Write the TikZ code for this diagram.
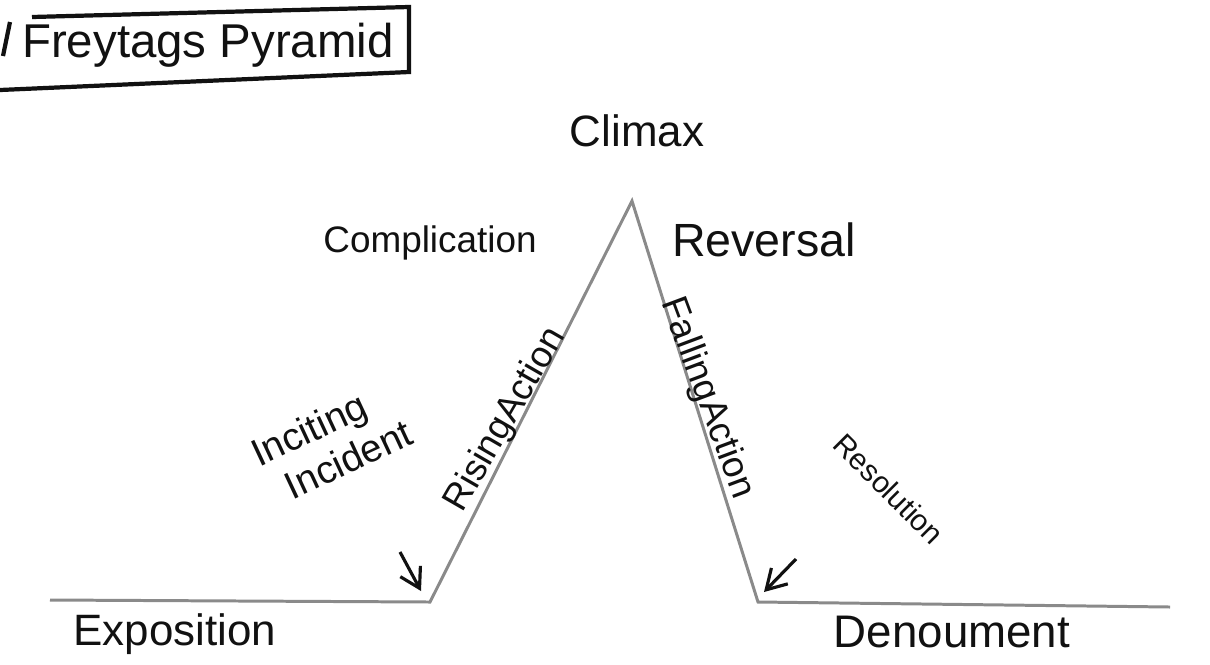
\documentclass[tikz,border=0pt]{standalone}
\usepackage{fontspec}
\setmainfont{Liberation Sans}
\usetikzlibrary{arrows.meta}
\definecolor{pencil}{HTML}{8A8A8A}
\definecolor{ink}{HTML}{111111}

\begin{document}
\begin{tikzpicture}[
    x=0.02cm, y=-0.02cm,
    stage/.style={font=\fontsize{25}{29}\selectfont, text=ink, inner sep=1pt},
    slope/.style={font=\fontsize{21}{25}\selectfont, text=ink, inner sep=1pt},
    plotline/.style={draw=pencil, line width=1.7pt, line join=miter},
    pointer/.style={-{Straight Barb[length=11pt, width=13pt]}, line width=1.8pt, color=ink},
    titlebox/.style={draw=ink, line width=2.4pt}
]
\useasboundingbox (0, 0) rectangle (1210, 664);

\coordinate (baseL) at (50, 600);
\coordinate (incite) at (430, 602);
\coordinate (peak) at (632, 201);
\coordinate (resolve) at (758, 602);
\coordinate (baseR) at (1170, 607);

\draw[plotline] (baseL) -- (incite) -- (peak) -- (resolve) -- (baseR);

\coordinate (boxA) at (32, 17);
\coordinate (boxB) at (409, 7);
\coordinate (boxC) at (409, 72);
\coordinate (boxD) at (0, 90);
\coordinate (slashT) at (10, 22);
\coordinate (slashB) at (3, 56);
\draw[titlebox] (boxA) -- (boxB) -- (boxC) -- (boxD);
\draw[titlebox] (slashT) -- (slashB);
\node[font=\fontsize{27}{31}\selectfont, text=ink] (title) at (208, 45) {Freytags Pyramid};

\node[stage] (climax) at (637, 131) {Climax};
\node[stage, font=\fontsize{21}{25}\selectfont] (complication) at (430, 243) {Complication};
\node[stage, font=\fontsize{26.5}{30}\selectfont] (reversal) at (764, 240) {Reversal};
\node[stage] (exposition) at (175, 634) {Exposition};
\node[stage, font=\fontsize{26}{30}\selectfont] (denoument) at (952, 632) {Denoument};

\node[slope, align=center, rotate=25, font=\fontsize{22}{25}\selectfont] (inciting) at (318, 449) {Inciting\\\hspace*{1.2em}Incident};
\node[slope, rotate=60] (rising) at (506, 420) {RisingAction};
\node[slope, rotate=-69.5] (falling) at (707, 398) {FallingAction};
\node[slope, rotate=-45, font=\fontsize{17}{20}\selectfont] (resolution) at (889, 489) {Resolution};

\coordinate (incTail) at (400, 552);
\coordinate (incTip) at (421, 591);
\coordinate (resTail) at (796, 559);
\coordinate (resTip) at (764, 592);
\draw[pointer] (incTail) -- (incTip);
\draw[pointer] (resTail) -- (resTip);

\end{tikzpicture}
\end{document}
